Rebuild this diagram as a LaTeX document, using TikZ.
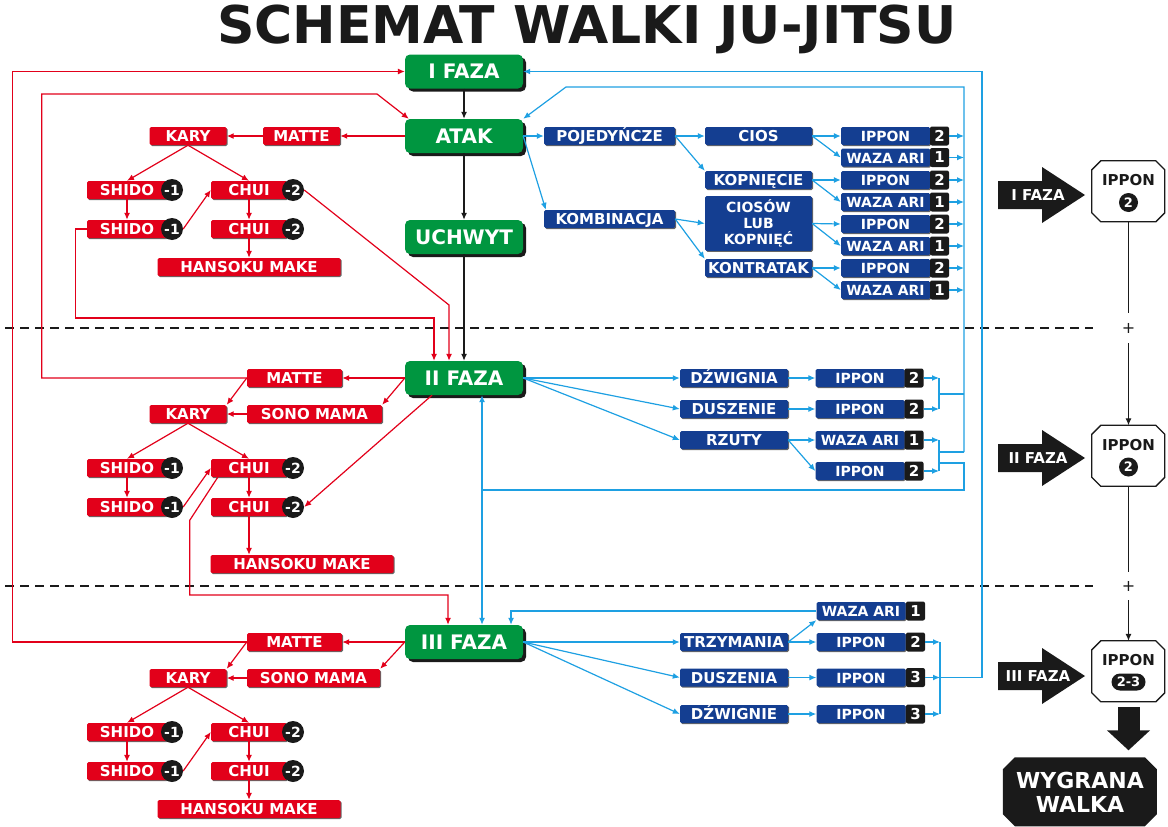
\documentclass[tikz,border=0pt]{standalone}
\usepackage{fontspec}
\setmainfont{DejaVu Sans}
\usetikzlibrary{arrows.meta,shapes.misc,shadows,positioning,calc}

\definecolor{judored}{RGB}{226,0,26}
\definecolor{judogreen}{RGB}{0,150,64}
\definecolor{judoblue}{RGB}{20,62,145}
\definecolor{judocyan}{RGB}{30,160,226}
\definecolor{judoblack}{RGB}{26,26,26}

\tikzstyle{greenbox}   = [rectangle, rounded corners=5pt, fill=judogreen, text=white, font=\fontsize{20}{20}\selectfont\bfseries, minimum width=118pt, minimum height=34pt, drop shadow={shadow xshift=3pt, shadow yshift=-3pt, fill=judoblack, opacity=1}]
\tikzstyle{redbox}     = [rectangle, rounded corners=1.5pt, fill=judored, text=white, font=\fontsize{15}{15}\selectfont\bfseries, minimum height=18pt, text height=11pt, text depth=0pt, inner xsep=2pt, inner ysep=3.5pt, drop shadow={shadow xshift=1pt, shadow yshift=-1pt, fill=black!60, opacity=1}]
\tikzstyle{bluebox}    = [redbox, fill=judoblue]
\tikzstyle{resultbox}  = [bluebox, minimum width=89pt, font=\fontsize{14}{14}\selectfont\bfseries]
\tikzstyle{penalty}    = [circle, fill=judoblack, text=white, inner sep=0pt, minimum size=22pt, font=\fontsize{14}{14}\selectfont\bfseries]
\tikzstyle{score}      = [rectangle, rounded corners=2pt, fill=judoblack, text=white, inner sep=0pt, minimum width=19pt, minimum height=19pt, font=\fontsize{15}{15}\selectfont\bfseries]
\tikzstyle{finalbox}   = [rectangle, minimum width=73pt, minimum height=61pt, inner sep=0pt]
\tikzstyle{finaltext}  = [text=judoblack, font=\fontsize{15}{15}\selectfont\bfseries, inner sep=0pt]
\tikzstyle{scoredot}   = [circle, fill=judoblack, text=white, inner sep=0pt, minimum size=19pt, font=\fontsize{13}{13}\selectfont\bfseries]
\tikzstyle{phaselabel} = [text=white, font=\fontsize{15}{15}\selectfont\bfseries, inner sep=0pt]
\tikzstyle{plusmark}   = [text=judoblack, font=\fontsize{16}{16}\selectfont, minimum height=30pt, inner sep=0pt]
\tikzstyle{redflow}    = [draw=judored, line width=1.2pt]
\tikzstyle{blueflow}   = [draw=judocyan, line width=1.2pt]
\tikzstyle{blackflow}  = [draw=judoblack, line width=1.2pt]

\begin{document}
\begin{tikzpicture}[x=1pt, y=-1pt, >={Latex[length=7pt,width=6pt]}]
    \useasboundingbox (0,0) rectangle (1168,827);

    % phase separators
    \draw[judoblack, line width=1.2pt, dash pattern=on 9pt off 6pt] (5,328) -- (1093,328);
    \draw[judoblack, line width=1.2pt, dash pattern=on 9pt off 6pt] (5,586) -- (1093,586);

    \node[text=judoblack, font=\fontsize{52}{52}\selectfont\bfseries] (title) at (587,29) {SCHEMAT WALKI JU-JITSU};

    % phases
    \node[greenbox] (ifaza)   at (464,71.5) {I FAZA};
    \node[greenbox] (atak)    at (464,136)  {ATAK};
    \node[greenbox] (uchwyt)  at (464,237)  {UCHWYT};
    \node[greenbox] (iifaza)  at (464,378)  {II FAZA};
    \node[greenbox] (iiifaza) at (464,642)  {III FAZA};

    \path [blackflow, ->] (ifaza)  -- (atak);
    \path [blackflow, ->] (atak)   -- (uchwyt);
    \path [blackflow, ->] (uchwyt) -- (iifaza);

    % penalties
    \foreach \p/\ky/\hx/\hy in {a/136/249/267, b/414/302/564, c/678/249/809}{
        \node[redbox, minimum width=77pt] (kary\p) at (188,\ky) {KARY};
        \node[redbox, minimum width=80pt] (sa\p) at (127,\ky+54) {SHIDO};
        \node[redbox, minimum width=80pt] (sb\p) at (127,\ky+93) {SHIDO};
        \node[redbox, minimum width=76pt] (ca\p) at (249,\ky+54) {CHUI};
        \node[redbox, minimum width=76pt] (cb\p) at (249,\ky+93) {CHUI};
        \node[penalty] (bsa\p) at (172,\ky+54) {-1};
        \node[penalty] (bsb\p) at (172,\ky+93) {-1};
        \node[penalty] (bca\p) at (293,\ky+54) {-2};
        \node[penalty] (bcb\p) at (293,\ky+93) {-2};
        \node[redbox, minimum width=183pt] (hm\p) at (\hx,\hy) {HANSOKU MAKE};

        \path [redflow, ->] (kary\p.south) -- (sa\p.north);
        \path [redflow, ->] (kary\p.south) -- (ca\p.north);
        \path [redflow, ->] (sa\p.south)   -- (sb\p.north);
        \path [redflow, ->] (bsb\p.east)   -- (ca\p.west);
        \path [redflow, ->] (ca\p.south)   -- (cb\p.north);
        \path [redflow, ->] (cb\p.south)   -- (cb\p.south |- hm\p.north);
    }

    \node[redbox, minimum width=77pt]  (mattea) at (301.5,136) {MATTE};
    \node[redbox, minimum width=95pt]  (matteb) at (294.5,378) {MATTE};
    \node[redbox, minimum width=135pt] (sonob)  at (314.5,414) {SONO MAMA};
    \node[redbox, minimum width=95pt]  (mattec) at (294.5,642) {MATTE};
    \node[redbox, minimum width=133pt] (sonoc)  at (313.5,678) {SONO MAMA};

    \coordinate (redA) at (449,305);
    \coordinate (redB) at (434,318);
    \coordinate (redC) at (377,94);
    \coordinate (redD) at (448,595);

    \path [redflow, ->] (atak.west)   -- (mattea.east);
    \path [redflow, ->] (mattea.west) -- (karya.east);
    \path [redflow, ->] (bcaa.east)   -- (redA) -- (redA |- iifaza.north);
    \path [redflow, ->] (sba.west)    -- ++(-11,0) |- (redB) -- (redB |- iifaza.north);

    \path [redflow, ->] (iifaza.west) -- (matteb.east);
    \path [redflow, ->] (iifaza.west) -- (sonob.north east);
    \path [redflow, ->] (matteb.west) -- (karyb.north east);
    \path [redflow, ->] (sonob.west)  -- (karyb.east);
    \path [redflow, ->] ([xshift=-32pt]iifaza.south) -- (bcbb.east);
    \path [redflow, ->] (matteb.west) -- ++(-205,0) |- (redC) -- ([xshift=4pt]atak.north west);
    \path [redflow, ->] ([xshift=7pt]cab.south west) -- ++(-28,43) |- (redD) -- (redD |- iiifaza.north);

    \path [redflow, ->] (iiifaza.west) -- (mattec.east);
    \path [redflow, ->] (iiifaza.west) -- (sonoc.north east);
    \path [redflow, ->] (mattec.west)  -- (karyc.north east);
    \path [redflow, ->] (sonoc.west)   -- (karyc.east);
    \path [redflow, ->] (mattec.west)  -- ++(-234,0) |- (ifaza.west);

    % techniques, phase I
    \coordinate (retI)  at (964,87);
    \coordinate (retII) at (964,452);

    \node[bluebox, minimum width=131pt] (poj)  at (609.5,136) {POJEDYŃCZE};
    \node[bluebox, minimum width=131pt] (komb) at (609.5,219) {KOMBINACJA};
    \node[bluebox, minimum width=107pt] (cios) at (758.5,136) {CIOS};
    \node[bluebox, minimum width=107pt] (kopn) at (758.5,180) {KOPNIĘCIE};
    \node[bluebox, minimum width=107pt, minimum height=51pt, text height=, text depth=, align=center, font=\fontsize{14}{16}\selectfont\bfseries] (ciosow) at (758.5,223.5) {CIOSÓW\\LUB\\KOPNIĘĆ};
    \node[bluebox, minimum width=107pt] (kontr) at (758.5,268) {KONTRATAK};

    \foreach \r/\y/\t/\s in {1/136/IPPON/2, 2/157.5/WAZA ARI/1, 3/180/IPPON/2, 4/202/WAZA ARI/1, 5/224/IPPON/2, 6/246/WAZA ARI/1, 7/268/IPPON/2, 8/290/WAZA ARI/1}{
        \node[resultbox] (ra\r) at (885.5,\y) {\t};
        \node[score] (pta\r) at (939.5,\y) {\s};
        \path [blueflow, ->] (pta\r.east) -- (pta\r.east -| retI);
    }

    \path [blueflow, ->] (atak.east) -- (poj.west);
    \path [blueflow, ->] (atak.east) -- ([xshift=2pt]komb.north west);
    \path [blueflow, ->] (poj.east)  -- (cios.west);
    \path [blueflow, ->] (poj.east)  -- (kopn.north west);
    \path [blueflow, ->] (komb.east) -- (ciosow.west);
    \path [blueflow, ->] (komb.east) -- (kontr.north west);
    \foreach \a/\u/\v in {cios/1/2, kopn/3/4, ciosow/5/6, kontr/7/8}{
        \path [blueflow, ->] (\a.east) -- (ra\u.west);
        \path [blueflow, ->] (\a.east) -- (ra\v.west);
    }

    % techniques, phase II
    \coordinate (brkA)   at (939,394);
    \coordinate (brkB)   at (939,452);
    \coordinate (brkC)   at (939,463);
    \coordinate (loopII) at (482,490);

    \node[bluebox, minimum width=108pt] (dzw)   at (734,378) {DŹWIGNIA};
    \node[bluebox, minimum width=108pt] (dusz)  at (734,409) {DUSZENIE};
    \node[bluebox, minimum width=108pt] (rzuty) at (734,440) {RZUTY};

    \foreach \r/\y/\t/\s in {1/378/IPPON/2, 2/409/IPPON/2, 3/440/WAZA ARI/1, 4/471/IPPON/2}{
        \node[resultbox] (rb\r) at (860,\y) {\t};
        \node[score] (ptb\r) at (914,\y) {\s};
        \path [blueflow, ->] (ptb\r.east) -- (ptb\r.east -| brkA);
    }

    \path [blueflow, ->] (iifaza.east) -- (dzw.west);
    \path [blueflow, ->] (iifaza.east) -- (dusz.west);
    \path [blueflow, ->] (iifaza.east) -- (rzuty.west);
    \path [blueflow, ->] (dzw.east)    -- (rb1.west);
    \path [blueflow, ->] (dusz.east)   -- (rb2.west);
    \path [blueflow, ->] (rzuty.east)  -- (rb3.west);
    \path [blueflow, ->] (rzuty.east)  -- (rb4.west);

    \path [blueflow] (brkA |- ptb1) -- (brkA |- ptb2);
    \path [blueflow] (brkA) -- (brkA -| retI);
    \path [blueflow] (brkA |- ptb3) -- (brkA |- ptb4);
    \path [blueflow] (brkB) -- (retII);
    \path [blueflow] (brkC) -- ++(25,0) |- (loopII);
    \path [blueflow, ->] (retII) -- (retI) -- ++(-398,0) -- (atak.north east);
    \path [blueflow, ->] (loopII) -- (loopII |- iifaza.south);
    \path [blueflow, ->] (loopII) -- (loopII |- iiifaza.north);

    % techniques, phase III
    \coordinate (brkD) at (940,677.5);

    \node[bluebox, minimum width=108pt] (trz)  at (734,642)   {TRZYMANIA};
    \node[bluebox, minimum width=108pt] (dusc) at (734,677.5) {DUSZENIA};
    \node[bluebox, minimum width=108pt] (dzwc) at (734,714)   {DŹWIGNIE};

    \foreach \r/\y/\t/\s in {0/611/WAZA ARI/1, 1/642/IPPON/2, 2/677.5/IPPON/3, 3/714/IPPON/3}{
        \node[resultbox] (rc\r) at (861,\y) {\t};
        \node[score] (ptc\r) at (915.5,\y) {\s};
    }
    \foreach \r in {1,2,3}{
        \path [blueflow, ->] (ptc\r.east) -- (ptc\r.east -| brkD);
    }

    \path [blueflow, ->] (iiifaza.east) -- (trz.west);
    \path [blueflow, ->] (iiifaza.east) -- (dusc.west);
    \path [blueflow, ->] (iiifaza.east) -- (dzwc.west);
    \path [blueflow, ->] (trz.east)     -- (rc1.west);
    \path [blueflow, ->] (trz.east)     -- (rc0.south west);
    \path [blueflow, ->] (dusc.east)    -- (rc2.west);
    \path [blueflow, ->] (dzwc.east)    -- (rc3.west);
    \path [blueflow] (brkD |- ptc1) -- (brkD |- ptc3);
    \path [blueflow, ->] (brkD) -- ++(42,0) |- (ifaza.east);
    \path [blueflow, ->] (rc0.west) -| ([xshift=47pt]iiifaza.north);

    % score column
    \foreach \n/\y/\t in {1/195/I FAZA, 2/458/II FAZA, 3/676/III FAZA}{
        \fill[judoblack] (998,\y-14) -- ++(44,0) -- ++(0,-14) -- (1085,\y) -- (1042,\y+28) -- ++(0,-14) -- (998,\y+14) -- cycle;
        \node[phaselabel] (phase\n) at (1038,\y) {\t};
    }

    \foreach \n/\y in {1/191.5, 2/456, 3/671.5}{
        \node[finalbox] (fin\n) at (1128.5,\y) {};
        \fill[judoblack, shift={(2.5,2.5)}] (fin\n.north west) ++(9,0) -- ++(55,0) -- ++(9,9) -- ++(0,43) -- ++(-9,9) -- ++(-55,0) -- ++(-9,-9) -- ++(0,-43) -- cycle;
        \filldraw[fill=white, draw=judoblack, line width=1.3pt] (fin\n.north west) ++(9,0) -- ++(55,0) -- ++(9,9) -- ++(0,43) -- ++(-9,9) -- ++(-55,0) -- ++(-9,-9) -- ++(0,-43) -- cycle;
    }
    \node[finaltext] (fin1t) at (1128.5,180) {IPPON};
    \node[scoredot]  (fin1s) at (1128.5,202.5) {2};
    \node[finaltext] (fin2t) at (1128.5,445) {IPPON};
    \node[scoredot]  (fin2s) at (1128.5,467) {2};
    \node[finaltext] (fin3t) at (1128.5,660) {IPPON};
    \node[rounded rectangle, fill=judoblack, text=white, inner sep=0pt, minimum width=34pt, minimum height=17pt, font=\fontsize{13}{13}\selectfont\bfseries] (fin3s) at (1128.5,682) {2-3};

    \node[plusmark] (plus1) at (1128.5,328) {+};
    \node[plusmark, minimum height=28pt] (plus2) at (1128.5,586) {+};

    \path [blackflow, line width=1pt]     (fin1.south)  -- (plus1.north);
    \path [blackflow, line width=1pt, ->] (plus1.south) -- (fin2.north);
    \path [blackflow, line width=1pt]     (fin2.south)  -- (plus2.north);
    \path [blackflow, line width=1pt, ->] (plus2.south) -- (fin3.north);

    \node[rectangle, text=white, inner sep=0pt, minimum width=154pt, minimum height=69pt, align=center, font=\fontsize{22}{24}\selectfont\bfseries] (win) at (1080,792) {};
    \fill[judoblack] (win.north west) ++(12,0) -- ++(130,0) -- ++(12,12) -- ++(0,45) -- ++(-12,12) -- ++(-130,0) -- ++(-12,-12) -- ++(0,-45) -- cycle;
    \node[text=white, align=center, inner sep=0pt, font=\fontsize{22}{24}\selectfont\bfseries] (wint) at (win) {WYGRANA\\WALKA};
    \path [draw=judoblack, line width=22pt, -{Triangle[length=20pt,width=42pt]}] ([yshift=-5pt]fin3.south) -- ([yshift=7pt]fin3.south |- win.north);
\end{tikzpicture}
\end{document}
